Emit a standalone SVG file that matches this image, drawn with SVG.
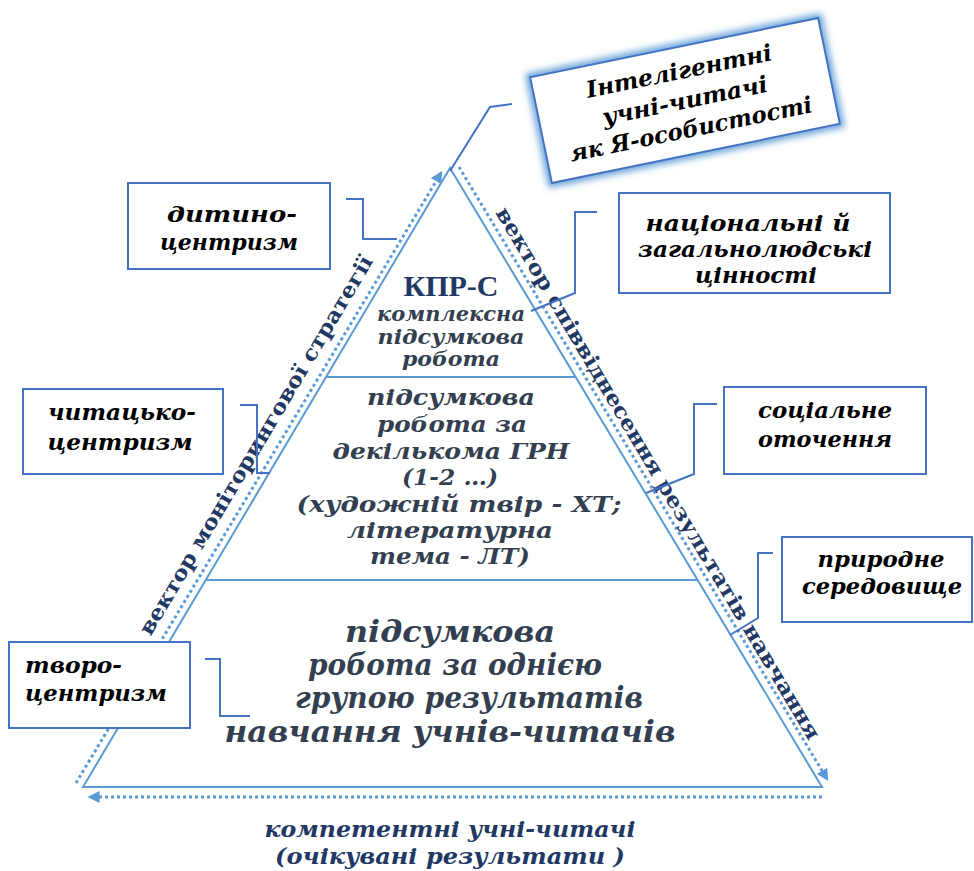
<svg xmlns="http://www.w3.org/2000/svg" width="974" height="871" viewBox="0 0 974 871">
<defs>
<style>
.tri{fill:none;stroke:#5b9bd5;stroke-width:2}
.dot{fill:none;stroke:#5b9bd5;stroke-width:3;stroke-dasharray:3 3}
.con{fill:none;stroke:#4472c4;stroke-width:2}
.box{fill:#fff;stroke:#4472c4;stroke-width:2}
.lbl{font-family:"DejaVu Serif","Liberation Serif",serif;font-weight:bold;font-style:italic;font-size:23px;fill:#000;text-anchor:middle}
.pt{font-family:"DejaVu Serif","Liberation Serif",serif;font-weight:bold;font-style:italic;fill:#333f50;text-anchor:middle}
.vec{font-family:"DejaVu Serif","Liberation Serif",serif;font-weight:bold;font-size:21px;fill:#1f3864;text-anchor:middle}
.cap{font-family:"DejaVu Serif","Liberation Serif",serif;font-style:italic;font-weight:bold;font-size:23px;fill:#1f3864;text-anchor:middle}
</style>
<marker id="ah" viewBox="0 0 10 10" refX="8" refY="5" markerWidth="4" markerHeight="4" orient="auto" markerUnits="strokeWidth">
<path d="M0,0 L10,5 L0,10 Z" fill="#5b9bd5"/>
</marker>
<filter id="glow" x="-20%" y="-30%" width="140%" height="160%">
<feGaussianBlur stdDeviation="3.5"/>
</filter>
</defs>

<g id="pyramid">
<path class="tri" d="M450,168 L822,787 L83,787 Z"/>
<line class="tri" x1="326" y1="377" x2="576" y2="377"/>
<line class="tri" x1="206" y1="580" x2="698" y2="580"/>
<text x="451" y="296" font-family="'Liberation Serif',serif" font-weight="bold" font-size="30" fill="#1f3864" text-anchor="middle">КПР-С</text>
<text class="pt" font-size="20" x="451" y="321" textLength="148" lengthAdjust="spacingAndGlyphs">комплексна</text>
<text class="pt" font-size="20" x="451" y="344" textLength="147" lengthAdjust="spacingAndGlyphs">підсумкова</text>
<text class="pt" font-size="20" x="451" y="366" textLength="98" lengthAdjust="spacingAndGlyphs">робота</text>
<text class="pt" font-size="22.5" x="451" y="405" textLength="168" lengthAdjust="spacingAndGlyphs">підсумкова</text>
<text class="pt" font-size="22.5" x="452" y="432" textLength="150" lengthAdjust="spacingAndGlyphs">робота за</text>
<text class="pt" font-size="22.5" x="451" y="459" textLength="237" lengthAdjust="spacingAndGlyphs">декількома ГРН</text>
<text class="pt" font-size="22.5" x="450" y="485" textLength="96" lengthAdjust="spacingAndGlyphs">(1-2 …)</text>
<text class="pt" font-size="22.5" x="459" y="512" textLength="325" lengthAdjust="spacingAndGlyphs">(художній твір - ХТ;</text>
<text class="pt" font-size="22.5" x="450" y="538" textLength="206" lengthAdjust="spacingAndGlyphs">літературна</text>
<text class="pt" font-size="22.5" x="450" y="564" textLength="160" lengthAdjust="spacingAndGlyphs">тема - ЛТ)</text>
<text class="pt" font-size="30" x="450" y="642" textLength="210" lengthAdjust="spacingAndGlyphs">підсумкова</text>
<text class="pt" font-size="30" x="455" y="675" textLength="294" lengthAdjust="spacingAndGlyphs">робота за однією</text>
<text class="pt" font-size="30" x="469" y="708" textLength="348" lengthAdjust="spacingAndGlyphs">групою результатів</text>
<text class="pt" font-size="30" x="450" y="742" textLength="451" lengthAdjust="spacingAndGlyphs">навчання учнів-читачів</text>
</g>

<g id="vectors">
<line class="dot" x1="76" y1="783" x2="441" y2="173" marker-end="url(#ah)"/>
<line class="dot" x1="459" y1="167" x2="827" y2="779" marker-end="url(#ah)"/>
<line class="dot" x1="822" y1="797" x2="90" y2="797" marker-end="url(#ah)"/>
<text class="vec" transform="translate(262,449) rotate(-59.3)" x="0" y="0" textLength="437" lengthAdjust="spacingAndGlyphs">вектор моніторингової стратегії</text>
<text class="vec" transform="translate(652,477) rotate(59.3)" x="0" y="0" textLength="615" lengthAdjust="spacingAndGlyphs">вектор співвіднесення результатів навчання</text>
</g>

<g id="connectors">
<path class="con" d="M450,171 L490,107 L512,104"/>
<path class="con" d="M346,199 H363 V239 H397"/>
<path class="con" d="M597,212 H575 V293 L531,311"/>
<path class="con" d="M240,405 H257 V473 H270"/>
<path class="con" d="M717,404 H694 V474 L646,493"/>
<path class="con" d="M773,553 H758 V618 L730,635"/>
<path class="con" d="M205,659 H220 V716 H250"/>
</g>

<g id="top-goal" transform="translate(685,100.5) rotate(-11.6)">
<rect x="-147" y="-54" width="294" height="108" fill="none" stroke="#5b9bd5" stroke-width="8" filter="url(#glow)"/>
<rect class="box" x="-147" y="-54" width="294" height="108"/>
<text class="lbl" font-size="26" x="0" y="-22" textLength="189" lengthAdjust="spacingAndGlyphs">Інтелігентні</text>
<text class="lbl" font-size="26" x="0" y="8" textLength="168" lengthAdjust="spacingAndGlyphs">учні-читачі</text>
<text class="lbl" font-size="26" x="0" y="37" textLength="247" lengthAdjust="spacingAndGlyphs">як Я-особистості</text>
</g>

<g id="dytyno">
<rect class="box" x="128" y="183" width="202" height="86"/>
<text class="lbl" x="232" y="222" textLength="130" lengthAdjust="spacingAndGlyphs">дитино-</text>
<text class="lbl" x="229" y="250" textLength="138" lengthAdjust="spacingAndGlyphs">центризм</text>
</g>

<g id="values">
<rect class="box" x="619" y="193" width="271" height="100"/>
<text class="lbl" x="748" y="231" textLength="205" lengthAdjust="spacingAndGlyphs">національні й</text>
<text class="lbl" x="755" y="257" textLength="234" lengthAdjust="spacingAndGlyphs">загальнолюдські</text>
<text class="lbl" x="756" y="283" textLength="122" lengthAdjust="spacingAndGlyphs">цінності</text>
</g>

<g id="chytatsko">
<rect class="box" x="23" y="389" width="200" height="85"/>
<text class="lbl" x="122" y="420" textLength="148" lengthAdjust="spacingAndGlyphs">читацько-</text>
<text class="lbl" x="120" y="450" textLength="145" lengthAdjust="spacingAndGlyphs">центризм</text>
</g>

<g id="social">
<rect class="box" x="724" y="387" width="202" height="87"/>
<text class="lbl" x="825" y="418" textLength="134" lengthAdjust="spacingAndGlyphs">соціальне</text>
<text class="lbl" x="825" y="447" textLength="134" lengthAdjust="spacingAndGlyphs">оточення</text>
</g>

<g id="nature">
<rect class="box" x="782" y="537" width="190" height="85"/>
<text class="lbl" x="881" y="567" textLength="127" lengthAdjust="spacingAndGlyphs">природне</text>
<text class="lbl" x="882" y="594" textLength="160" lengthAdjust="spacingAndGlyphs">середовище</text>
</g>

<g id="tvoro">
<rect class="box" x="9" y="642" width="181" height="86"/>
<text class="lbl" x="25" y="673" style="text-anchor:start" textLength="97" lengthAdjust="spacingAndGlyphs">творо-</text>
<text class="lbl" x="25" y="701" style="text-anchor:start" textLength="142" lengthAdjust="spacingAndGlyphs">центризм</text>
</g>

<g id="caption">
<text class="cap" x="450" y="837" textLength="371" lengthAdjust="spacingAndGlyphs">компетентні учні-читачі</text>
<text class="cap" x="450" y="864" textLength="350" lengthAdjust="spacingAndGlyphs">(очікувані результати )</text>
</g>
</svg>
